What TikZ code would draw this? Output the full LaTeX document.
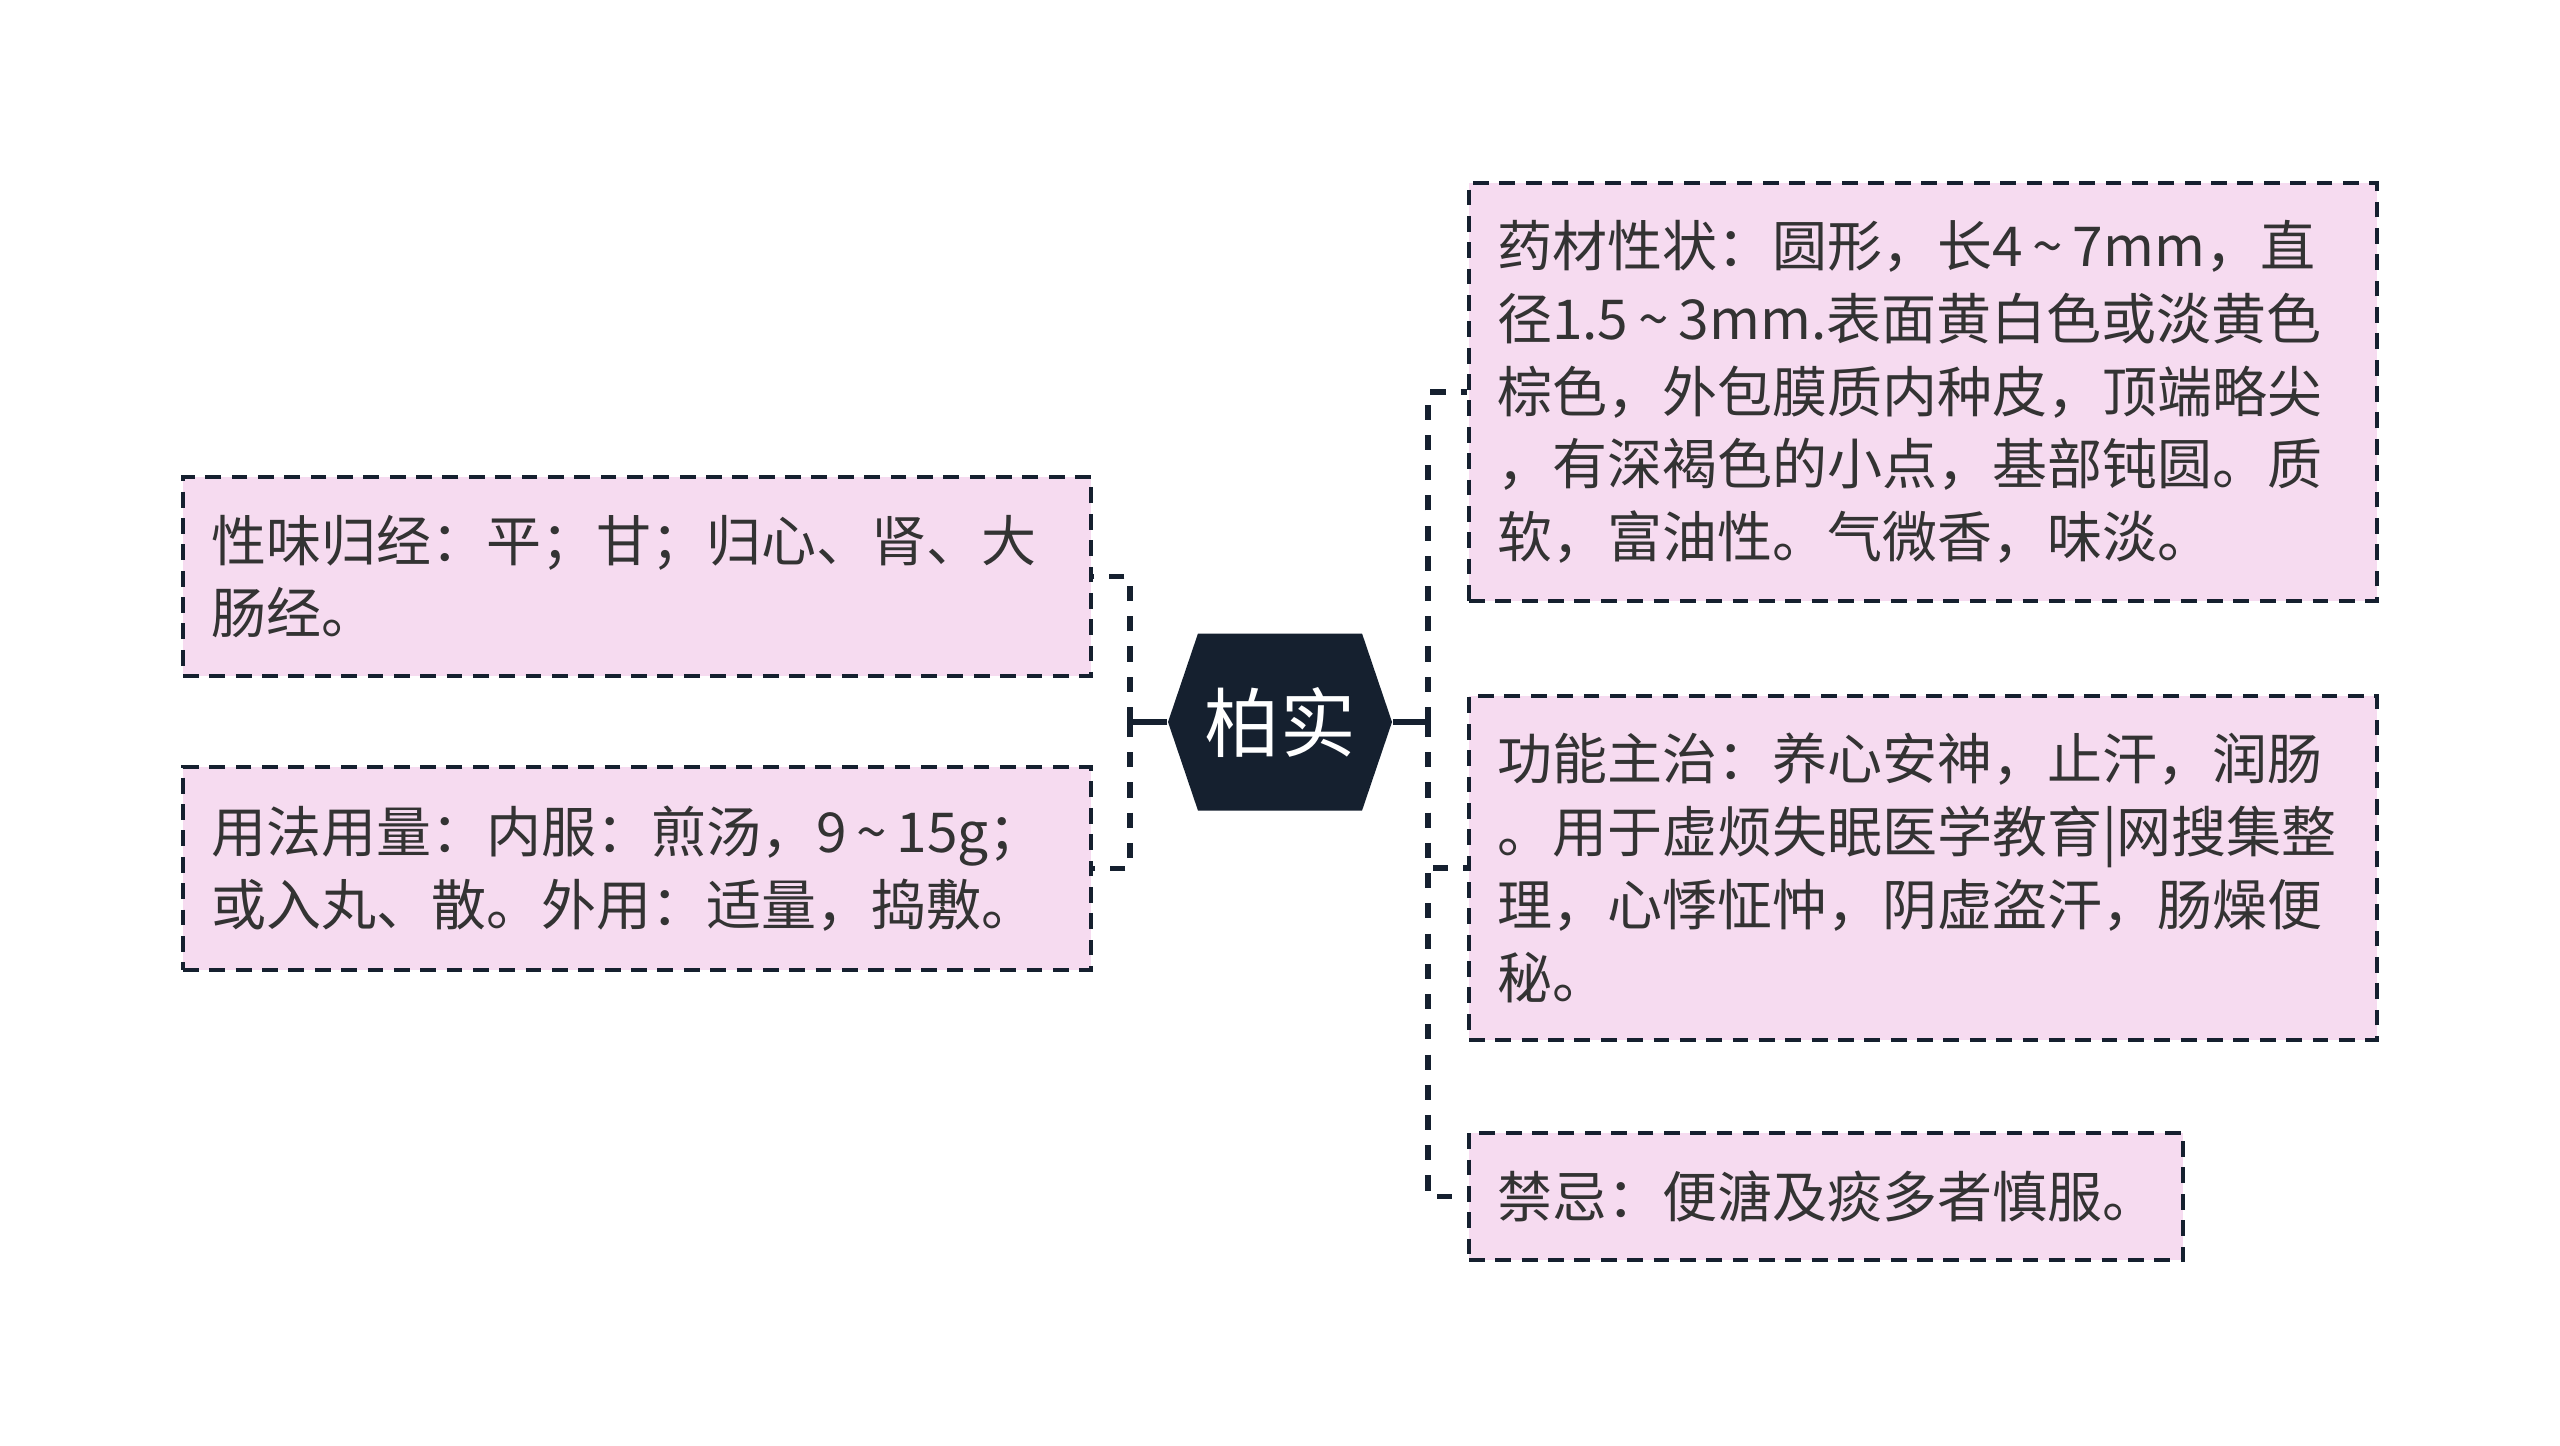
\documentclass[tikz,border=0pt]{standalone}
\usepackage{fontspec}
\setmainfont{Noto Sans CJK SC}
\usetikzlibrary{positioning,shapes.symbols}
\definecolor{corenavy}{HTML}{15202F}
\definecolor{leafpink}{HTML}{F6DBF0}
\definecolor{leaftext}{HTML}{333333}
\newcommand{\rng}{\hspace{0.18em}\textasciitilde\hspace{0.18em}}

\begin{document}
\begin{tikzpicture}[
    core/.style={shape=signal, signal to=east and west, signal pointer angle=142.6,
                 fill=corenavy, draw=none, inner sep=0pt,
                 minimum width=2.24cm, minimum height=1.77cm,
                 text=white, font=\fontsize{21.5pt}{26pt}\selectfont},
    leaf/.style={rectangle, draw=corenavy, fill=leafpink, line width=0.95pt,
                 dash pattern=on 4.5pt off 3pt,
                 inner xsep=0.28cm, inner ysep=0pt, align=left,
                 text=leaftext, font=\fontsize{15.65pt}{20.7pt}\selectfont},
    trunk/.style={draw=corenavy, line width=1.56pt},
    branch/.style={draw=corenavy, line width=1.56pt, dash pattern=on 4.3pt off 4.3pt}]

\useasboundingbox (0,0) rectangle (25.6,-14.45);

% Centre topic
\node[core] (baishi) at (12.80,-7.22) {柏实};

% Junctions either side of the centre
\coordinate (jleft)  at (11.30,-7.22);
\coordinate (jright) at (14.28,-7.22);

% Left leaves
\node[leaf, text width=8.52cm, minimum height=1.99cm] (xingwei) at (6.37,-5.765)
  {性味归经：平；甘；归心、肾、大\\肠经。};
\node[leaf, text width=8.52cm, minimum height=2.03cm] (yongfa) at (6.37,-8.685)
  {用法用量：内服：煎汤，9\rng15g；\\或入丸、散。外用：适量，捣敷。};

% Right leaves
\node[leaf, text width=8.52cm, minimum height=4.18cm] (xingzhuang) at (19.23,-3.92)
  {药材性状：圆形，长4\rng7mm，直\\径1.5\rng3mm.表面黄白色或淡黄色\\棕色，外包膜质内种皮，顶端略尖\\，有深褐色的小点，基部钝圆。质\\软，富油性。气微香，味淡。};
\node[leaf, text width=8.52cm, minimum height=3.44cm] (gongneng) at (19.23,-8.68)
  {功能主治：养心安神，止汗，润肠\\。用于虚烦失眠医学教育|网搜集整\\理，心悸怔忡，阴虚盗汗，肠燥便\\秘。};
\node[leaf, text width=6.58cm, minimum height=1.27cm] (jinji) at (18.26,-11.965)
  {禁忌：便溏及痰多者慎服。};

% Centre to junctions
\draw[trunk] (baishi.west) -- (jleft);
\draw[trunk] (baishi.east) -- (jright);

% Junctions to leaves
\draw[branch] (jleft) |- (xingwei.east);
\draw[branch] (jleft) |- (yongfa.east);
\draw[branch] (jright) |- (xingzhuang.west);
\draw[branch] (jright) |- (gongneng.west);
\draw[branch] (jright) |- (jinji.west);

\end{tikzpicture}
\end{document}
